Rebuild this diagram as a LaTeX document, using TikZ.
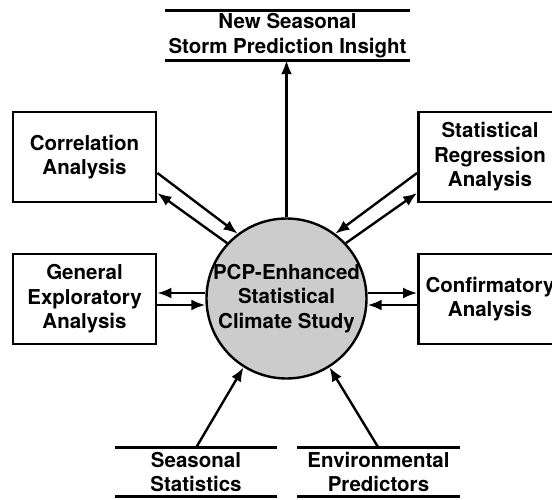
\documentclass[tikz,border=0pt]{standalone}
\usepackage{fontspec}
\setmainfont{TeX Gyre Heros}
\usetikzlibrary{arrows.meta}

\tikzset{
	kasten/.style={draw=black, line width=2.8pt, fill=white, inner sep=0pt,
		minimum width=143pt, minimum height=90pt, align=center},
	etikett/.style={inner sep=0pt, minimum height=48pt, align=center},
	pfeil/.style={line width=2.4pt, -{Latex[length=14pt, width=11pt]}},
	strich/.style={line width=2.8pt}
}

\begin{document}
\begin{tikzpicture}[x=1pt, y=-1pt, font=\fontsize{20.5}{24.5}\selectfont\bfseries]
	\useasboundingbox (0, 0) rectangle (552, 500);
	\clip (0, 0) rectangle (552, 500);
	% Kreis in der Mitte
	\node[circle, draw=black, line width=2.4pt, fill=gray!40, inner sep=0pt,
	minimum size=160pt] (kreis) at (286.5, 298.5) {};
	\node[align=center] (kreistext) at (kreis.center)
	{PCP-Enhanced\\Statistical\\Climate Study};
	% Kaesten links und rechts
	\node[kasten] (korr) at (84.5, 157) {Correlation\\Analysis};
	\node[kasten] (allg) at (84.5, 299) {General\\Exploratory\\Analysis};
	\node[kasten] (regr) at (490, 157) {Statistical\\Regression\\Analysis};
	\node[kasten] (bestaet) at (490, 299) {Confirmatory\\Analysis};
	% Beschriftungen oben und unten
	\node[etikett, minimum width=245pt, minimum height=49pt] (oben) at (287.5, 35.5)
	{New Seasonal\\Storm Prediction Insight};
	\node[etikett, minimum width=162pt] (saison) at (196, 472)
	{Seasonal\\Statistics};
	\node[etikett, minimum width=162pt] (umwelt) at (378.5, 472)
	{Environmental\\Predictors};
	\foreach \n in {oben, saison, umwelt} {
		\draw[strich] (\n.north west) -- (\n.north east);
		\draw[strich] (\n.south west) -- (\n.south east);
	}
	% Pfeile
	\draw[pfeil] (kreis.north) -- (kreis.north |- oben.south);
	\draw[pfeil] ([yshift=-16pt]korr.east) -- (kreis.127);
	\draw[pfeil] (kreis.137) -- ([yshift=-36pt]korr.east);
	\draw[pfeil] ([yshift=-16pt]regr.west) -- (kreis.53);
	\draw[pfeil] (kreis.43) -- ([yshift=-36pt]regr.west);
	\draw[pfeil] ([yshift=6pt]allg.east -| kreis.west) -- ([yshift=6pt]allg.east);
	\draw[pfeil] ([yshift=-6pt]allg.east) -- ([yshift=-6pt]allg.east -| kreis.west);
	\draw[pfeil] ([yshift=6pt]bestaet.west -| kreis.east) -- ([yshift=6pt]bestaet.west);
	\draw[pfeil] ([yshift=-6pt]bestaet.west) -- ([yshift=-6pt]bestaet.west -| kreis.east);
	\draw[pfeil] (saison.north) -- (kreis.238);
	\draw[pfeil] (umwelt.north) -- (kreis.302);
\end{tikzpicture}
\end{document}
